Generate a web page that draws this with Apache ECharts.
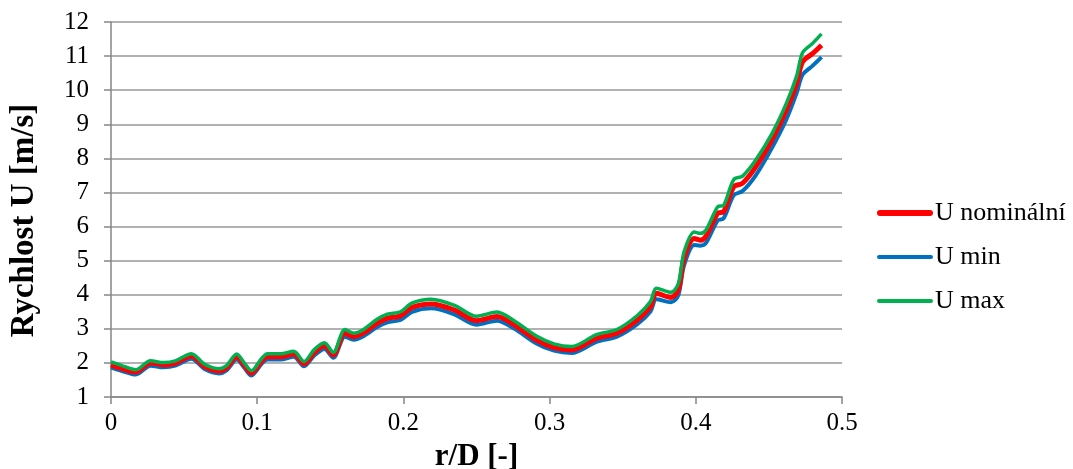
<!DOCTYPE html>
<html><head><meta charset="utf-8">
<script src="https://cdn.jsdelivr.net/npm/echarts@6/dist/echarts.min.js"></script>
<style>html,body{margin:0;padding:0;background:#fff}#c{width:1073px;height:469px}</style>
</head><body><div id="c"></div>
<script>
const rD = [0,0.007,0.017,0.027,0.036,0.044,0.055,0.064,0.074,0.079,0.086,0.091,0.096,0.103,0.107,0.116,0.125,0.132,0.139,0.146,0.152,0.160,0.166,0.173,0.182,0.189,0.198,0.206,0.219,0.235,0.250,0.264,0.276,0.291,0.303,0.315,0.332,0.346,0.360,0.369,0.373,0.383,0.388,0.392,0.399,0.403,0.407,0.415,0.419,0.426,0.432,0.441,0.452,0.462,0.469,0.473,0.480,0.486];
const uNom = [1.94,1.84,1.73,2.0,1.94,1.99,2.2,1.89,1.76,1.85,2.18,1.94,1.70,2.05,2.18,2.18,2.26,1.97,2.3,2.5,2.23,2.87,2.77,2.89,3.16,3.31,3.38,3.63,3.73,3.55,3.24,3.36,3.11,2.67,2.45,2.38,2.72,2.87,3.26,3.65,4.04,3.92,4.14,5.07,5.65,5.6,5.72,6.39,6.43,7.17,7.27,7.75,8.54,9.42,10.2,10.83,11.08,11.32];
const uMin = [1.86,1.77,1.66,1.92,1.87,1.92,2.12,1.82,1.69,1.78,2.10,1.87,1.63,1.97,2.10,2.10,2.18,1.90,2.22,2.41,2.15,2.77,2.68,2.79,3.05,3.19,3.26,3.50,3.60,3.42,3.12,3.24,3.00,2.57,2.36,2.29,2.62,2.77,3.14,3.51,3.87,3.78,3.98,4.87,5.46,5.44,5.52,6.18,6.24,6.92,7.04,7.50,8.30,9.15,9.92,10.45,10.72,10.97];
const uMax = [2.03,1.93,1.80,2.06,2.01,2.06,2.27,1.96,1.83,1.92,2.26,2.01,1.77,2.13,2.27,2.27,2.34,2.04,2.39,2.59,2.31,2.98,2.87,2.99,3.28,3.43,3.50,3.76,3.87,3.69,3.37,3.49,3.23,2.79,2.56,2.48,2.83,2.98,3.39,3.80,4.19,4.07,4.32,5.26,5.84,5.80,5.90,6.58,6.62,7.38,7.48,7.95,8.72,9.62,10.42,11.10,11.38,11.65];
const names = ['U nominální','U min','U max'];

const pair = (ys) => rD.map((x,i)=>[x, ys[i]]);
const font = 'Liberation Serif';
const chart = echarts.init(document.getElementById('c'), null, {renderer:'canvas'});
chart.setOption({
  animation:false,
  backgroundColor:'#fff',
  grid:{left:111,right:231,top:22,bottom:72,containLabel:false,outerBoundsMode:'none'},
  legend:{
    orient:'vertical', left:872, top:195, itemWidth:56, itemHeight:14, itemGap:18,
    textStyle:{fontFamily:font, fontSize:26, color:'#000', padding:[0,0,0,-3]},
    data:[
      {name:names[0], icon:'path://M3 0H53A3 3 0 0 1 53 6H3A3 3 0 0 1 3 0Z'},
      {name:names[1], icon:'path://M2 0H54A2 2 0 0 1 54 4H2A2 2 0 0 1 2 0Z'},
      {name:names[2], icon:'path://M2 0H54A2 2 0 0 1 54 4H2A2 2 0 0 1 2 0Z'}
    ]
  },
  xAxis:{
    type:'value', min:0, max:0.5, interval:0.1,
    name:'r/D [-]', nameLocation:'middle', nameGap:44,
    nameTextStyle:{fontFamily:font, fontSize:31, fontWeight:'bold', color:'#000'},
    axisLine:{show:true, lineStyle:{color:'#868686', width:1.5}},
    axisTick:{show:true, length:7, lineStyle:{color:'#868686', width:1.5}},
    axisLabel:{fontFamily:font, fontSize:25, color:'#000', margin:14},
    splitLine:{show:false}
  },
  yAxis:{
    type:'value', min:1, max:12, interval:1,
    name:'Rychlost U [m/s]', nameLocation:'middle', nameGap:70, nameRotate:90,
    nameTextStyle:{fontFamily:font, fontSize:33, fontWeight:'bold', color:'#000', padding:[0,22,0,0]},
    axisLine:{show:true, lineStyle:{color:'#868686', width:1.5}},
    axisTick:{show:true, length:7, lineStyle:{color:'#868686', width:1.5}},
    axisLabel:{fontFamily:font, fontSize:25, color:'#000', margin:22},
    splitLine:{show:true, lineStyle:{color:'#989898', width:1.5}}
  },
  series:[
    {name:names[0], type:'line', data:pair(uNom), smooth:0.3, showSymbol:false, symbol:'none', z:3,
     lineStyle:{color:'#ff0000', width:5}, itemStyle:{color:'#ff0000'}},
    {name:names[1], type:'line', data:pair(uMin), smooth:0.3, showSymbol:false, symbol:'none', z:2,
     lineStyle:{color:'#0070c0', width:4}, itemStyle:{color:'#0070c0'}},
    {name:names[2], type:'line', data:pair(uMax), smooth:0.3, showSymbol:false, symbol:'none', z:4,
     lineStyle:{color:'#00b050', width:3.5}, itemStyle:{color:'#00b050'}}
  ]
});
</script></body></html>
